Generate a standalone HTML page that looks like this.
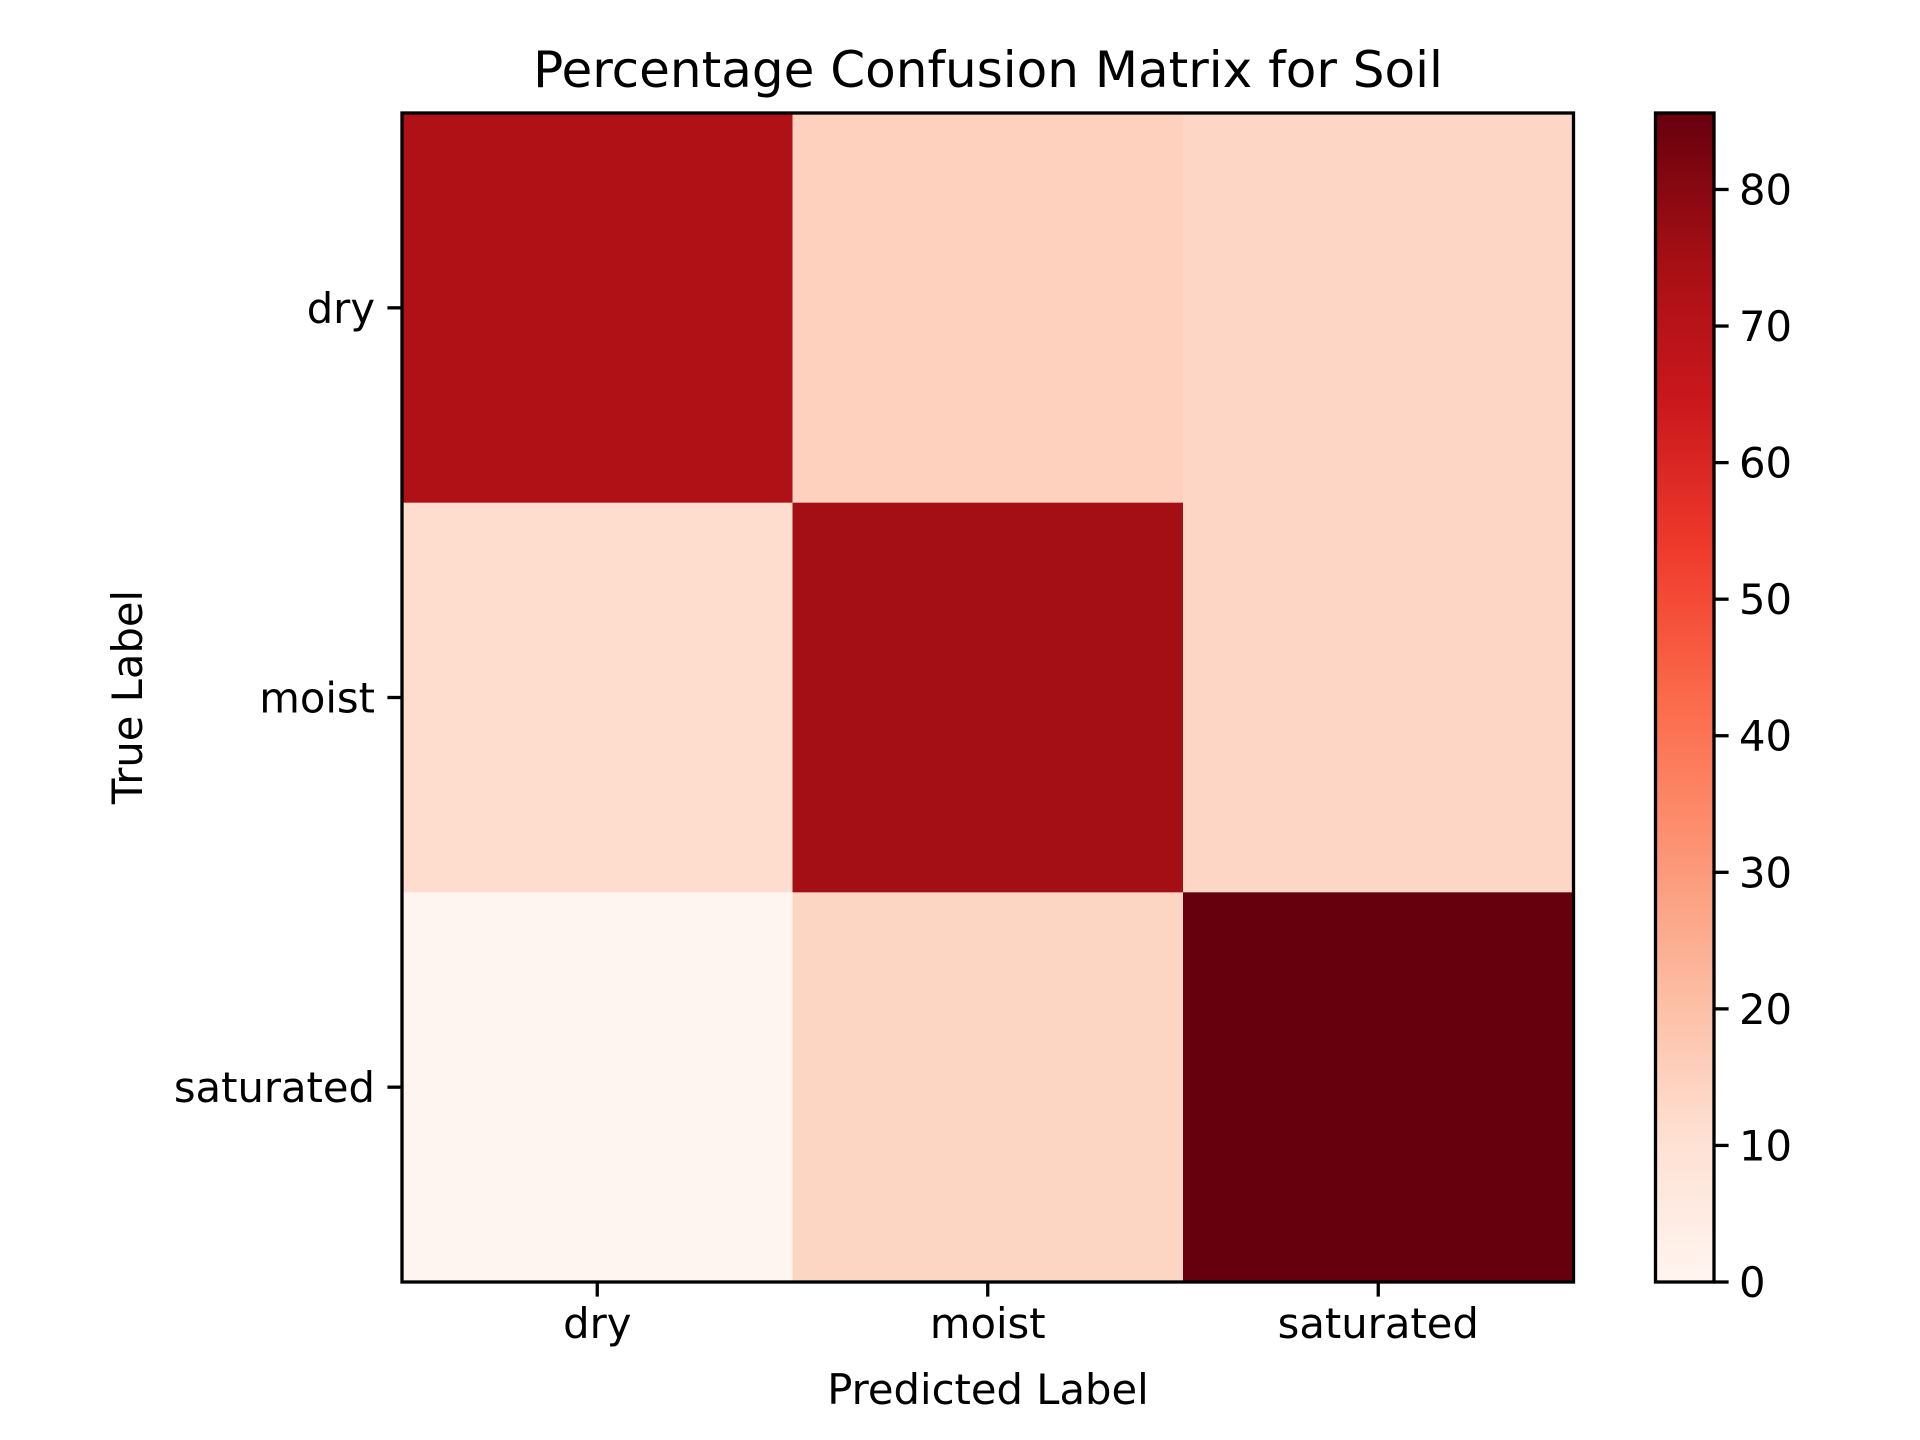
<!DOCTYPE html>
<html><head><meta charset="utf-8"><style>
html,body{margin:0;padding:0;background:#fff;}
svg{display:block;font-family:"DejaVu Sans","Liberation Sans",sans-serif;}
</style></head><body>
<svg id="chart" width="1920" height="1440" viewBox="0 0 1920 1440" xmlns="http://www.w3.org/2000/svg">
<rect width="1920" height="1440" fill="#fff"/>
<text x="988" y="87" font-size="50" text-anchor="middle" fill="#000">Percentage Confusion Matrix for Soil</text>
<g id="cells"></g>
<g id="axes"></g>
<text x="988" y="1404" font-size="41.7" text-anchor="middle">Predicted Label</text>
<text x="0" y="0" font-size="41.7" text-anchor="middle" transform="translate(142,697) rotate(-90)">True Label</text>
<defs><linearGradient id="cbgrad" x1="0" y1="1" x2="0" y2="0">
<stop offset="0" stop-color="#fff5f0"/><stop offset="0.125" stop-color="#fee0d2"/><stop offset="0.25" stop-color="#fcbba1"/><stop offset="0.375" stop-color="#fc9272"/><stop offset="0.5" stop-color="#fb6a4a"/><stop offset="0.625" stop-color="#ef3b2c"/><stop offset="0.75" stop-color="#cb181d"/><stop offset="0.875" stop-color="#a50f15"/><stop offset="1" stop-color="#67000d"/>
</linearGradient></defs>
<g id="colorbar"></g>
</svg>
<script>
const categories = ["dry","moist","saturated"];
const rowDry = [72.0, 15.0, 13.5];
const rowMoist = [11.5, 75.0, 13.5];
const rowSaturated = [0.0, 14.0, 85.6];
const cbTicks = [0,10,20,30,40,50,60,70,80];

const matrix = [rowDry,rowMoist,rowSaturated];
const NS="http://www.w3.org/2000/svg";
const L=402,R=1573.5,T=113,B=1282;
const vmin=Math.min(...matrix.flat()), vmax=Math.max(...matrix.flat());
const stops=["#fff5f0","#fee0d2","#fcbba1","#fc9272","#fb6a4a","#ef3b2c","#cb181d","#a50f15","#67000d"].map(h=>[1,3,5].map(i=>parseInt(h.substr(i,2),16)));
function color(v){let t=(v-vmin)/(vmax-vmin);t=Math.max(0,Math.min(1,t))*8;const i=Math.min(7,Math.floor(t)),f=t-i;const c=stops[i].map((a,k)=>Math.round(a+(stops[i+1][k]-a)*f));return `rgb(${c})`;}
const n=categories.length, cw=(R-L)/n, ch=(B-T)/n;
const xs=j=>L+cw*(j+0.5), ys=i=>T+ch*(i+0.5);
function mk(tag,attrs,parent){const e=document.createElementNS(NS,tag);for(const k in attrs)e.setAttribute(k,attrs[k]);parent.appendChild(e);return e;}
const cells=document.getElementById('cells');
matrix.forEach((row,i)=>row.forEach((v,j)=>{
 const r=mk('rect',{x:L+cw*j,y:T+ch*i,width:cw+0.5,height:ch+0.5,fill:color(v)},cells);
 
 
}));
const ax=document.getElementById('axes');
const fr=mk('rect',{x:L,y:T,width:R-L,height:B-T,fill:'none',stroke:'#000','stroke-width':3.3},ax);


categories.forEach((c,j)=>{
 mk('line',{x1:xs(j),x2:xs(j),y1:B,y2:B+14.6,stroke:'#000','stroke-width':3.3},ax);
 const t=mk('text',{x:xs(j),y:B+56,'font-size':41.7,'text-anchor':'middle'},ax);t.textContent=c;
 
 
 mk('line',{x1:L,x2:L-14.6,y1:ys(j),y2:ys(j),stroke:'#000','stroke-width':3.3},ax);
 const u=mk('text',{x:L-27,y:ys(j)+15,'font-size':41.7,'text-anchor':'end'},ax);u.textContent=c;
 
 
});
const cb=document.getElementById('colorbar');
const CL=1655.5,CR=1714;
const cy=v=>B-(v-vmin)/(vmax-vmin)*(B-T);
const g=mk('rect',{x:CL,y:T,width:CR-CL,height:B-T,fill:'url(#cbgrad)',stroke:'#000','stroke-width':3.3},cb);


cbTicks.forEach(v=>{
 mk('line',{x1:CR,x2:CR+14.6,y1:cy(v),y2:cy(v),stroke:'#000','stroke-width':3.3},cb);
 const t=mk('text',{x:CR+25,y:cy(v)+15,'font-size':41.7},cb);t.textContent=v;
 
 
});
</script>
</body></html>
